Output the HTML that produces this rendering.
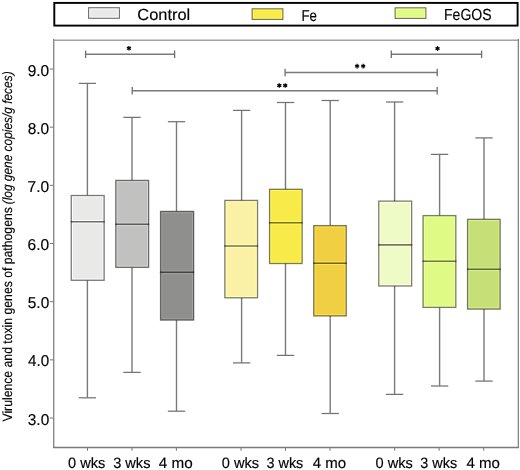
<!DOCTYPE html><html><head><meta charset="utf-8"><style>html,body{margin:0;padding:0;background:#fff;}svg{display:block;will-change:transform;}</style></head><body>
<svg width="520" height="470" viewBox="0 0 520 470" font-family='"Liberation Sans", sans-serif' text-rendering="geometricPrecision">
<rect x="0" y="0" width="520" height="470" fill="#fff"/>
<rect x="54.3" y="2.9" width="463.3" height="22.7" fill="#fff" stroke="#000" stroke-width="1.9"/>
<rect x="88.6" y="7.699999999999999" width="30.8" height="10.6" fill="#e9e9e7"/>
<rect x="89.7" y="8.799999999999999" width="28.6" height="8.4" fill="none" stroke="#fdfdfb" stroke-width="1"/>
<rect x="88.6" y="7.699999999999999" width="30.8" height="10.6" fill="none" stroke="#000" stroke-opacity="0.55" stroke-width="1.1"/>
<text x="137.28" y="20.30" font-size="16.0" textLength="52.95" lengthAdjust="spacingAndGlyphs" fill="#000" stroke="#000" stroke-width="0.15">Control</text>
<rect x="252.1" y="8.799999999999999" width="30.8" height="10.6" fill="#f8ea48"/>
<rect x="253.2" y="9.899999999999999" width="28.6" height="8.4" fill="none" stroke="#fffe5c" stroke-width="1"/>
<rect x="252.1" y="8.799999999999999" width="30.8" height="10.6" fill="none" stroke="#000" stroke-opacity="0.55" stroke-width="1.1"/>
<text x="301.44" y="21.40" font-size="15.8" textLength="15.49" lengthAdjust="spacingAndGlyphs" fill="#000" stroke="#000" stroke-width="0.15">Fe</text>
<rect x="395.1" y="7.8" width="30.8" height="10.6" fill="#dffb86"/>
<rect x="396.2" y="8.9" width="28.6" height="8.4" fill="none" stroke="#f3ff9a" stroke-width="1"/>
<rect x="395.1" y="7.8" width="30.8" height="10.6" fill="none" stroke="#000" stroke-opacity="0.55" stroke-width="1.1"/>
<text x="443.98" y="20.30" font-size="16.0" textLength="47.65" lengthAdjust="spacingAndGlyphs" fill="#000" stroke="#000" stroke-width="0.15">FeGOS</text>
<line x1="53" y1="40.2" x2="518.9" y2="40.2" stroke="#a2a2a2" stroke-width="1.6"/>
<line x1="53.7" y1="39.1" x2="53.7" y2="447.9" stroke="#8a8a8a" stroke-width="1.4"/>
<line x1="518.3" y1="39.1" x2="518.3" y2="448.1" stroke="#7a7a7a" stroke-width="1.2"/>
<line x1="53" y1="447.4" x2="518.9" y2="447.4" stroke="#7a7a7a" stroke-width="1.5"/>
<line x1="49.8" y1="418.02" x2="53.5" y2="418.02" stroke="#777" stroke-width="1"/>
<text x="27.78" y="424.62" font-size="15.8" textLength="21.46" lengthAdjust="spacingAndGlyphs" fill="#000" stroke="#000" stroke-width="0.15">3.0</text>
<line x1="49.8" y1="359.85" x2="53.5" y2="359.85" stroke="#777" stroke-width="1"/>
<text x="28.10" y="366.45" font-size="15.8" textLength="21.14" lengthAdjust="spacingAndGlyphs" fill="#000" stroke="#000" stroke-width="0.15">4.0</text>
<line x1="49.8" y1="301.68" x2="53.5" y2="301.68" stroke="#777" stroke-width="1"/>
<text x="27.78" y="308.28" font-size="15.8" textLength="21.46" lengthAdjust="spacingAndGlyphs" fill="#000" stroke="#000" stroke-width="0.15">5.0</text>
<line x1="49.8" y1="243.51" x2="53.5" y2="243.51" stroke="#777" stroke-width="1"/>
<text x="27.62" y="250.11" font-size="15.8" textLength="21.62" lengthAdjust="spacingAndGlyphs" fill="#000" stroke="#000" stroke-width="0.15">6.0</text>
<line x1="49.8" y1="185.34" x2="53.5" y2="185.34" stroke="#777" stroke-width="1"/>
<text x="27.62" y="191.94" font-size="15.8" textLength="21.62" lengthAdjust="spacingAndGlyphs" fill="#000" stroke="#000" stroke-width="0.15">7.0</text>
<line x1="49.8" y1="127.17" x2="53.5" y2="127.17" stroke="#777" stroke-width="1"/>
<text x="27.70" y="133.77" font-size="15.8" textLength="21.54" lengthAdjust="spacingAndGlyphs" fill="#000" stroke="#000" stroke-width="0.15">8.0</text>
<line x1="49.8" y1="69.00" x2="53.5" y2="69.00" stroke="#777" stroke-width="1"/>
<text x="27.70" y="75.60" font-size="15.8" textLength="21.54" lengthAdjust="spacingAndGlyphs" fill="#000" stroke="#000" stroke-width="0.15">9.0</text>
<line x1="87.5" y1="447" x2="87.5" y2="450.8" stroke="#777" stroke-width="1"/>
<text x="68.12" y="468.10" font-size="15.0" textLength="37.31" lengthAdjust="spacingAndGlyphs" fill="#000" stroke="#000" stroke-width="0.15">0 wks</text>
<line x1="132.0" y1="447" x2="132.0" y2="450.8" stroke="#777" stroke-width="1"/>
<text x="113.22" y="468.10" font-size="15.0" textLength="37.21" lengthAdjust="spacingAndGlyphs" fill="#000" stroke="#000" stroke-width="0.15">3 wks</text>
<line x1="176.4" y1="447" x2="176.4" y2="450.8" stroke="#777" stroke-width="1"/>
<text x="158.89" y="468.10" font-size="15.0" textLength="33.97" lengthAdjust="spacingAndGlyphs" fill="#000" stroke="#000" stroke-width="0.15">4 mo</text>
<line x1="241.0" y1="447" x2="241.0" y2="450.8" stroke="#777" stroke-width="1"/>
<text x="221.82" y="468.10" font-size="15.0" textLength="37.31" lengthAdjust="spacingAndGlyphs" fill="#000" stroke="#000" stroke-width="0.15">0 wks</text>
<line x1="285.5" y1="447" x2="285.5" y2="450.8" stroke="#777" stroke-width="1"/>
<text x="266.52" y="468.10" font-size="15.0" textLength="36.80" lengthAdjust="spacingAndGlyphs" fill="#000" stroke="#000" stroke-width="0.15">3 wks</text>
<line x1="330.0" y1="447" x2="330.0" y2="450.8" stroke="#777" stroke-width="1"/>
<text x="312.80" y="468.10" font-size="15.0" textLength="33.45" lengthAdjust="spacingAndGlyphs" fill="#000" stroke="#000" stroke-width="0.15">4 mo</text>
<line x1="394.7" y1="447" x2="394.7" y2="450.8" stroke="#777" stroke-width="1"/>
<text x="375.51" y="468.10" font-size="15.0" textLength="37.41" lengthAdjust="spacingAndGlyphs" fill="#000" stroke="#000" stroke-width="0.15">0 wks</text>
<line x1="439.1" y1="447" x2="439.1" y2="450.8" stroke="#777" stroke-width="1"/>
<text x="420.32" y="468.10" font-size="15.0" textLength="36.80" lengthAdjust="spacingAndGlyphs" fill="#000" stroke="#000" stroke-width="0.15">3 wks</text>
<line x1="483.7" y1="447" x2="483.7" y2="450.8" stroke="#777" stroke-width="1"/>
<text x="466.40" y="468.10" font-size="15.0" textLength="33.45" lengthAdjust="spacingAndGlyphs" fill="#000" stroke="#000" stroke-width="0.15">4 mo</text>
<line x1="87.4" y1="83.4" x2="87.4" y2="195.5" stroke="#7a7a7a" stroke-width="1.4"/>
<line x1="87.4" y1="280.3" x2="87.4" y2="397.8" stroke="#7a7a7a" stroke-width="1.4"/>
<line x1="78.75" y1="83.4" x2="96.05000000000001" y2="83.4" stroke="#727272" stroke-width="1.25"/>
<line x1="78.75" y1="397.8" x2="96.05000000000001" y2="397.8" stroke="#727272" stroke-width="1.25"/>
<rect x="71.25" y="195.50" width="32.90" height="84.80" fill="#e9e9e7"/>
<rect x="72.45" y="196.80" width="30.50" height="23.70" fill="none" stroke="#fdfdfb" stroke-width="1"/>
<rect x="72.45" y="223.10" width="30.50" height="55.90" fill="none" stroke="#fdfdfb" stroke-width="1"/>
<rect x="71.25" y="195.50" width="32.90" height="84.80" fill="none" stroke="#000" stroke-opacity="0.5" stroke-width="1.3"/>
<line x1="70.60" y1="221.8" x2="104.80" y2="221.8" stroke="#000" stroke-opacity="0.52" stroke-width="1.6"/>
<line x1="132.0" y1="117.4" x2="132.0" y2="180.4" stroke="#7a7a7a" stroke-width="1.4"/>
<line x1="132.0" y1="267.4" x2="132.0" y2="372.4" stroke="#7a7a7a" stroke-width="1.4"/>
<line x1="123.35" y1="117.4" x2="140.65" y2="117.4" stroke="#727272" stroke-width="1.25"/>
<line x1="123.35" y1="372.4" x2="140.65" y2="372.4" stroke="#727272" stroke-width="1.25"/>
<rect x="115.75" y="180.40" width="32.90" height="87.00" fill="#c1c1bf"/>
<rect x="116.95" y="181.70" width="30.50" height="41.30" fill="none" stroke="#d5d5d3" stroke-width="1"/>
<rect x="116.95" y="225.60" width="30.50" height="40.50" fill="none" stroke="#d5d5d3" stroke-width="1"/>
<rect x="115.75" y="180.40" width="32.90" height="87.00" fill="none" stroke="#000" stroke-opacity="0.5" stroke-width="1.3"/>
<line x1="115.10" y1="224.3" x2="149.30" y2="224.3" stroke="#000" stroke-opacity="0.52" stroke-width="1.6"/>
<line x1="176.5" y1="121.7" x2="176.5" y2="211.4" stroke="#7a7a7a" stroke-width="1.4"/>
<line x1="176.5" y1="320.1" x2="176.5" y2="411.2" stroke="#7a7a7a" stroke-width="1.4"/>
<line x1="167.85" y1="121.7" x2="185.15" y2="121.7" stroke="#727272" stroke-width="1.25"/>
<line x1="167.85" y1="411.2" x2="185.15" y2="411.2" stroke="#727272" stroke-width="1.25"/>
<rect x="160.55" y="211.40" width="33.10" height="108.70" fill="#8f8f8d"/>
<rect x="161.75" y="212.70" width="30.70" height="58.30" fill="none" stroke="#a3a3a1" stroke-width="1"/>
<rect x="161.75" y="273.60" width="30.70" height="45.20" fill="none" stroke="#a3a3a1" stroke-width="1"/>
<rect x="160.55" y="211.40" width="33.10" height="108.70" fill="none" stroke="#000" stroke-opacity="0.5" stroke-width="1.3"/>
<line x1="159.90" y1="272.3" x2="194.30" y2="272.3" stroke="#000" stroke-opacity="0.52" stroke-width="1.6"/>
<line x1="241.6" y1="110.4" x2="241.6" y2="200.4" stroke="#7a7a7a" stroke-width="1.4"/>
<line x1="241.6" y1="297.8" x2="241.6" y2="362.9" stroke="#7a7a7a" stroke-width="1.4"/>
<line x1="232.95" y1="110.4" x2="250.25" y2="110.4" stroke="#727272" stroke-width="1.25"/>
<line x1="232.95" y1="362.9" x2="250.25" y2="362.9" stroke="#727272" stroke-width="1.25"/>
<rect x="224.85" y="200.40" width="32.70" height="97.40" fill="#faf1a5"/>
<rect x="226.05" y="201.70" width="30.30" height="43.00" fill="none" stroke="#ffffb9" stroke-width="1"/>
<rect x="226.05" y="247.30" width="30.30" height="49.20" fill="none" stroke="#ffffb9" stroke-width="1"/>
<rect x="224.85" y="200.40" width="32.70" height="97.40" fill="none" stroke="#000" stroke-opacity="0.5" stroke-width="1.3"/>
<line x1="224.20" y1="246.0" x2="258.20" y2="246.0" stroke="#000" stroke-opacity="0.52" stroke-width="1.6"/>
<line x1="285.5" y1="102.5" x2="285.5" y2="189.3" stroke="#7a7a7a" stroke-width="1.4"/>
<line x1="285.5" y1="263.5" x2="285.5" y2="355.4" stroke="#7a7a7a" stroke-width="1.4"/>
<line x1="276.85" y1="102.5" x2="294.15" y2="102.5" stroke="#727272" stroke-width="1.25"/>
<line x1="276.85" y1="355.4" x2="294.15" y2="355.4" stroke="#727272" stroke-width="1.25"/>
<rect x="269.55" y="189.30" width="32.60" height="74.20" fill="#f8ea48"/>
<rect x="270.75" y="190.60" width="30.20" height="30.80" fill="none" stroke="#fffe5c" stroke-width="1"/>
<rect x="270.75" y="224.00" width="30.20" height="38.20" fill="none" stroke="#fffe5c" stroke-width="1"/>
<rect x="269.55" y="189.30" width="32.60" height="74.20" fill="none" stroke="#000" stroke-opacity="0.5" stroke-width="1.3"/>
<line x1="268.90" y1="222.7" x2="302.80" y2="222.7" stroke="#000" stroke-opacity="0.52" stroke-width="1.6"/>
<line x1="330.2" y1="100.5" x2="330.2" y2="225.6" stroke="#7a7a7a" stroke-width="1.4"/>
<line x1="330.2" y1="315.9" x2="330.2" y2="413.5" stroke="#7a7a7a" stroke-width="1.4"/>
<line x1="321.55" y1="100.5" x2="338.84999999999997" y2="100.5" stroke="#727272" stroke-width="1.25"/>
<line x1="321.55" y1="413.5" x2="338.84999999999997" y2="413.5" stroke="#727272" stroke-width="1.25"/>
<rect x="313.75" y="225.60" width="32.50" height="90.30" fill="#f0d042"/>
<rect x="314.95" y="226.90" width="30.10" height="35.00" fill="none" stroke="#ffe456" stroke-width="1"/>
<rect x="314.95" y="264.50" width="30.10" height="50.10" fill="none" stroke="#ffe456" stroke-width="1"/>
<rect x="313.75" y="225.60" width="32.50" height="90.30" fill="none" stroke="#000" stroke-opacity="0.5" stroke-width="1.3"/>
<line x1="313.10" y1="263.2" x2="346.90" y2="263.2" stroke="#000" stroke-opacity="0.52" stroke-width="1.6"/>
<line x1="394.6" y1="102.0" x2="394.6" y2="201.1" stroke="#7a7a7a" stroke-width="1.4"/>
<line x1="394.6" y1="286.0" x2="394.6" y2="394.4" stroke="#7a7a7a" stroke-width="1.4"/>
<line x1="385.95000000000005" y1="102.0" x2="403.25" y2="102.0" stroke="#727272" stroke-width="1.25"/>
<line x1="385.95000000000005" y1="394.4" x2="403.25" y2="394.4" stroke="#727272" stroke-width="1.25"/>
<rect x="378.75" y="201.10" width="32.90" height="84.90" fill="#effbc6"/>
<rect x="379.95" y="202.40" width="30.50" height="41.20" fill="none" stroke="#ffffda" stroke-width="1"/>
<rect x="379.95" y="246.20" width="30.50" height="38.50" fill="none" stroke="#ffffda" stroke-width="1"/>
<rect x="378.75" y="201.10" width="32.90" height="84.90" fill="none" stroke="#000" stroke-opacity="0.5" stroke-width="1.3"/>
<line x1="378.10" y1="244.9" x2="412.30" y2="244.9" stroke="#000" stroke-opacity="0.52" stroke-width="1.6"/>
<line x1="439.6" y1="154.4" x2="439.6" y2="215.6" stroke="#7a7a7a" stroke-width="1.4"/>
<line x1="439.6" y1="307.4" x2="439.6" y2="386.0" stroke="#7a7a7a" stroke-width="1.4"/>
<line x1="430.95000000000005" y1="154.4" x2="448.25" y2="154.4" stroke="#727272" stroke-width="1.25"/>
<line x1="430.95000000000005" y1="386.0" x2="448.25" y2="386.0" stroke="#727272" stroke-width="1.25"/>
<rect x="423.05" y="215.60" width="32.80" height="91.80" fill="#dffb86"/>
<rect x="424.25" y="216.90" width="30.40" height="43.00" fill="none" stroke="#f3ff9a" stroke-width="1"/>
<rect x="424.25" y="262.50" width="30.40" height="43.60" fill="none" stroke="#f3ff9a" stroke-width="1"/>
<rect x="423.05" y="215.60" width="32.80" height="91.80" fill="none" stroke="#000" stroke-opacity="0.5" stroke-width="1.3"/>
<line x1="422.40" y1="261.2" x2="456.50" y2="261.2" stroke="#000" stroke-opacity="0.52" stroke-width="1.6"/>
<line x1="484.0" y1="137.9" x2="484.0" y2="219.3" stroke="#7a7a7a" stroke-width="1.4"/>
<line x1="484.0" y1="309.1" x2="484.0" y2="381.1" stroke="#7a7a7a" stroke-width="1.4"/>
<line x1="475.35" y1="137.9" x2="492.65" y2="137.9" stroke="#727272" stroke-width="1.25"/>
<line x1="475.35" y1="381.1" x2="492.65" y2="381.1" stroke="#727272" stroke-width="1.25"/>
<rect x="467.55" y="219.30" width="32.60" height="89.80" fill="#c6df76"/>
<rect x="468.75" y="220.60" width="30.20" height="47.40" fill="none" stroke="#daf38a" stroke-width="1"/>
<rect x="468.75" y="270.60" width="30.20" height="37.20" fill="none" stroke="#daf38a" stroke-width="1"/>
<rect x="467.55" y="219.30" width="32.60" height="89.80" fill="none" stroke="#000" stroke-opacity="0.5" stroke-width="1.3"/>
<line x1="466.90" y1="269.3" x2="500.80" y2="269.3" stroke="#000" stroke-opacity="0.52" stroke-width="1.6"/>
<line x1="85.6" y1="54.3" x2="174.6" y2="54.3" stroke="#7a7a7a" stroke-width="1.5"/>
<line x1="85.6" y1="50.5" x2="85.6" y2="58.099999999999994" stroke="#6e6e6e" stroke-width="1.3"/>
<line x1="174.6" y1="50.5" x2="174.6" y2="58.099999999999994" stroke="#6e6e6e" stroke-width="1.3"/>
<line x1="128.90" y1="46.00" x2="128.90" y2="50.60" stroke="#000" stroke-width="1.25"/><line x1="130.89" y1="47.15" x2="126.91" y2="49.45" stroke="#000" stroke-width="1.25"/><line x1="130.89" y1="49.45" x2="126.91" y2="47.15" stroke="#000" stroke-width="1.25"/>
<line x1="285.1" y1="72.5" x2="437.2" y2="72.5" stroke="#7a7a7a" stroke-width="1.5"/>
<line x1="285.1" y1="68.7" x2="285.1" y2="76.3" stroke="#6e6e6e" stroke-width="1.3"/>
<line x1="437.2" y1="68.7" x2="437.2" y2="76.3" stroke="#6e6e6e" stroke-width="1.3"/>
<line x1="357.10" y1="63.80" x2="357.10" y2="68.40" stroke="#000" stroke-width="1.25"/><line x1="359.09" y1="64.95" x2="355.11" y2="67.25" stroke="#000" stroke-width="1.25"/><line x1="359.09" y1="67.25" x2="355.11" y2="64.95" stroke="#000" stroke-width="1.25"/>
<line x1="363.20" y1="63.80" x2="363.20" y2="68.40" stroke="#000" stroke-width="1.25"/><line x1="365.19" y1="64.95" x2="361.21" y2="67.25" stroke="#000" stroke-width="1.25"/><line x1="365.19" y1="67.25" x2="361.21" y2="64.95" stroke="#000" stroke-width="1.25"/>
<line x1="132.2" y1="90.8" x2="437.2" y2="90.8" stroke="#7a7a7a" stroke-width="1.5"/>
<line x1="132.2" y1="87.0" x2="132.2" y2="94.6" stroke="#6e6e6e" stroke-width="1.3"/>
<line x1="437.2" y1="87.0" x2="437.2" y2="94.6" stroke="#6e6e6e" stroke-width="1.3"/>
<line x1="279.30" y1="83.20" x2="279.30" y2="87.80" stroke="#000" stroke-width="1.25"/><line x1="281.29" y1="84.35" x2="277.31" y2="86.65" stroke="#000" stroke-width="1.25"/><line x1="281.29" y1="86.65" x2="277.31" y2="84.35" stroke="#000" stroke-width="1.25"/>
<line x1="285.20" y1="83.20" x2="285.20" y2="87.80" stroke="#000" stroke-width="1.25"/><line x1="287.19" y1="84.35" x2="283.21" y2="86.65" stroke="#000" stroke-width="1.25"/><line x1="287.19" y1="86.65" x2="283.21" y2="84.35" stroke="#000" stroke-width="1.25"/>
<line x1="391.3" y1="54.3" x2="481.6" y2="54.3" stroke="#7a7a7a" stroke-width="1.5"/>
<line x1="391.3" y1="50.5" x2="391.3" y2="58.099999999999994" stroke="#6e6e6e" stroke-width="1.3"/>
<line x1="481.6" y1="50.5" x2="481.6" y2="58.099999999999994" stroke="#6e6e6e" stroke-width="1.3"/>
<line x1="437.50" y1="46.20" x2="437.50" y2="50.80" stroke="#000" stroke-width="1.25"/><line x1="439.49" y1="47.35" x2="435.51" y2="49.65" stroke="#000" stroke-width="1.25"/><line x1="439.49" y1="49.65" x2="435.51" y2="47.35" stroke="#000" stroke-width="1.25"/>
<text transform="translate(11.80,0) rotate(-90)" x="-421.56" y="0" font-size="13.5" textLength="214.40" lengthAdjust="spacingAndGlyphs" fill="#000" stroke="#000" stroke-width="0.15">Virulence and toxin genes of pathogens</text>
<text transform="translate(11.80,0) rotate(-90)" x="-204.34" y="0" font-size="13.5" textLength="132.93" lengthAdjust="spacingAndGlyphs" font-style="italic" fill="#000" stroke="#000" stroke-width="0.15">(log gene copies/g feces)</text>
</svg></body></html>
